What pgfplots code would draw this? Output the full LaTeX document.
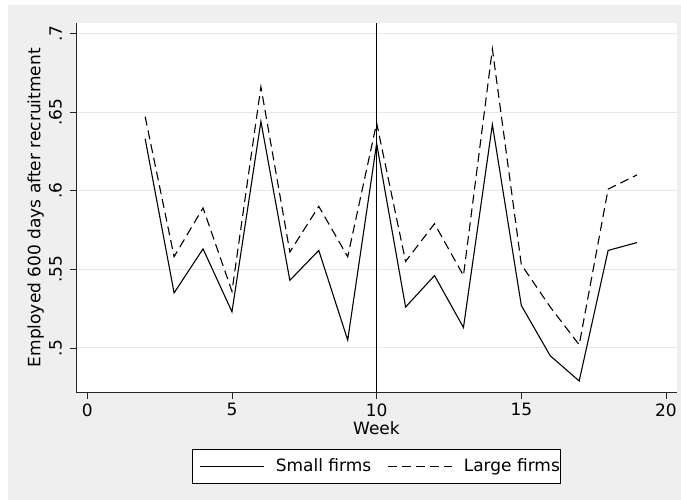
\documentclass[border=0pt]{standalone}
\usepackage{fontspec}
\setmainfont{DejaVu Sans}
\usepackage{pgfplots}
\pgfplotsset{compat=1.18}
\definecolor{bggray}{RGB}{239,239,239}
\definecolor{gridgray}{RGB}{232,232,232}
\begin{document}
\fontsize{17bp}{20bp}\selectfont
\begin{tikzpicture}
\fill[white] (-76.3bp,-107.7bp) rectangle (604.7bp,392.3bp);
\fill[bggray] (-68.3bp,-107.7bp) rectangle (604.7bp,387.3bp);
\begin{axis}[
  at={(0,0)}, anchor=south west,
  scale only axis, width=600.4bp, height=369bp,
  xmin=-0.38, xmax=20.37, ymin=0.4718, ymax=0.7064,
  axis x line*=bottom, axis y line*=left,
  axis line style={-, black!85, line width=0.8bp},
  axis background/.style={fill=white},
  tick align=outside, major tick length=6.7bp,
  tick style={black!85, line width=0.8bp},
  xtick={0,5,10,15,20}, xticklabels={0,5,10,15,20},
  ytick={0.5,0.55,0.6,0.65,0.7}, yticklabels={.5,.55,.6,.65,.7},
  ymajorgrids, grid style={gridgray, line width=1bp},
  xticklabel style={font=\fontsize{17bp}{20bp}\selectfont, inner sep=0pt, anchor=north, yshift=-4.3bp},
  yticklabel style={font=\fontsize{17bp}{20bp}\selectfont, inner sep=0pt, xshift=-7.6bp, rotate=90, anchor=south},
  every axis x label/.style={at={(axis description cs:0.5,0)}, anchor=base, yshift=-41.7bp, font=\fontsize{17bp}{20bp}\selectfont},
  every axis y label/.style={at={(axis description cs:0,0.5)}, xshift=-36bp, rotate=90, anchor=base, font=\fontsize{17bp}{20bp}\selectfont},
  xlabel={Week},
  ylabel={Employed 600 days after recruitment},
  legend columns=2,
  legend image code/.code={\path[draw=none] (-6.8bp,0bp) -- (0bp,0bp); \draw[#1] (0bp,0bp) -- (64bp,0bp);},
  legend style={at={(axis description cs:0.5,0)}, anchor=north, yshift=-57bp,
    draw=black, line width=0.8bp, fill=white,
    inner xsep=0.5bp, inner ysep=8.9bp,
    font=\fontsize{17bp}{20bp}\selectfont,
    nodes={inner sep=0pt},
    /tikz/every odd column/.append style={column sep=11.3bp},
    /tikz/every even column/.append style={column sep=10bp}},
  legend cell align=left,
]
\addplot[black, line width=1bp, forget plot] coordinates {(10,0.4718) (10,0.7064)};
\addplot[black, line width=1.1bp] coordinates {
(2,0.633)(3,0.535)(4,0.563)(5,0.523)(6,0.644)(7,0.543)(8,0.562)(9,0.505)(10,0.630)
(11,0.526)(12,0.546)(13,0.513)(14,0.642)(15,0.527)(16,0.495)(17,0.479)(18,0.562)(19,0.567)};
\addlegendentry{Small firms}
\addplot[black, line width=1.1bp, dash pattern=on 9bp off 5bp] coordinates {
(2,0.647)(3,0.558)(4,0.589)(5,0.536)(6,0.666)(7,0.561)(8,0.590)(9,0.558)(10,0.643)
(11,0.555)(12,0.579)(13,0.546)(14,0.690)(15,0.553)(16,0.526)(17,0.502)(18,0.601)(19,0.610)};
\addlegendentry{Large firms}
\end{axis}
\pgfresetboundingbox
\path[use as bounding box] (-76.3bp,-107.7bp) rectangle (604.7bp,392.3bp);
\end{tikzpicture}
\end{document}
